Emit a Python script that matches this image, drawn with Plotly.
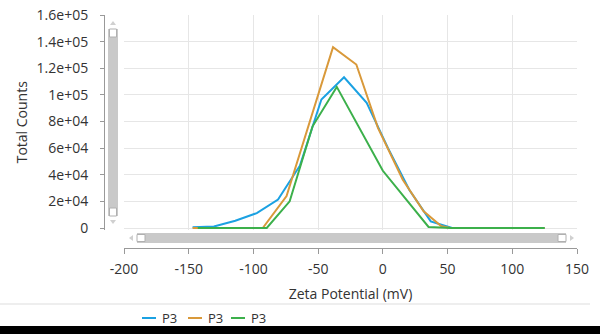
import plotly.graph_objects as go

# ---------------- data ----------------
series_names = ["P3", "P3", "P3"]
series_colors = ["#1ba1e2", "#d9993a", "#3cb04b"]

blue_x = [-147, -130.5, -114, -97.4, -81, -64, -47.5, -30, -12.5, 4, 20.5, 37, 53.5, 70, 88, 106, 125]
blue_y = [500, 1200, 5500, 11200, 21300, 47000, 96500, 113200, 94000, 60000, 28500, 5000, 0, 0, 0, 0, 0]

orange_x = [-147, -129, -111, -92.8, -74.4, -56.5, -38.5, -20.5, -3.8, 15.4, 31.5, 45, 52, 70, 88, 106, 125]
orange_y = [0, 0, 0, 0, 24000, 80000, 135800, 122800, 75200, 36300, 12500, 1500, 0, 0, 0, 0, 0]

green_x = [-143, -125, -107, -89.7, -72, -54.3, -35.6, -18, 0, 17.5, 35.3, 53, 71, 89, 107, 125]
green_y = [0, 0, 0, 0, 20000, 76400, 106000, 74500, 43000, 22000, 800, 0, 0, 0, 0, 0]

x_tickvals = [-200, -150, -100, -50, 0, 50, 100, 150]
x_ticktext = ["-200", "-150", "-100", "-50", "0", "50", "100", "150"]
y_tickvals = [0, 20000, 40000, 60000, 80000, 100000, 120000, 140000, 160000]
y_ticktext = ["0", "2e+04", "4e+04", "6e+04", "8e+04", "1e+05", "1.2e+05", "1.4e+05", "1.6e+05"]

x_title = "Zeta Potential (mV)"
y_title = "Total Counts"

# ---------------- layout geometry ----------------
W, H = 600, 334
ML, MR, MT, MB = 104, 23, 15, 86
PW = W - ML - MR
PH = H - MT - MB


def fx(px):
    return (px - ML) / PW


def fy(py):
    return (H - MB - py) / PH


FONT = "Open Sans, Noto Sans, sans-serif"
TXT = "#333333"

# y axis: 0 at pixel 228, 1.6e5 at pixel 15; extend the plot 1.5 px below 0
Y0_PX, YTOP_PX = 228.0, 15.0
per_px = 160000 / (Y0_PX - YTOP_PX)
y_min = -1.5 * per_px

fig = go.Figure()
all_series = [(blue_x, blue_y), (orange_x, orange_y), (green_x, green_y)]
for (xs, ys), name, col in zip(all_series, series_names, series_colors):
    fig.add_trace(go.Scatter(x=xs, y=ys, mode="lines", name=name,
                             line=dict(color=col, width=2), showlegend=False))

shapes = []
# vertical scrollbar
gray = "#c9c9c9"
shapes.append(dict(type="rect", xref="paper", yref="paper", x0=fx(108), x1=fx(118),
                   y0=fy(216), y1=fy(29), fillcolor=gray, line=dict(width=0), layer="above"))
for (a, b) in [(29, 37), (208, 216)]:
    shapes.append(dict(type="rect", xref="paper", yref="paper", x0=fx(109.5), x1=fx(116.5),
                       y0=fy(b), y1=fy(a), fillcolor="white", line=dict(color="#b0b0b0", width=1), layer="above"))
shapes.append(dict(type="path", xref="paper", yref="paper",
                   path=f"M {fx(110)} {fy(25)} L {fx(116)} {fy(25)} L {fx(113)} {fy(21)} Z",
                   fillcolor="#d0d0d0", line=dict(width=0)))
shapes.append(dict(type="path", xref="paper", yref="paper",
                   path=f"M {fx(110)} {fy(220)} L {fx(116)} {fy(220)} L {fx(113)} {fy(224)} Z",
                   fillcolor="#d0d0d0", line=dict(width=0)))
# horizontal scrollbar
shapes.append(dict(type="rect", xref="paper", yref="paper", x0=fx(137), x1=fx(566),
                   y0=fy(243), y1=fy(233), fillcolor=gray, line=dict(width=0), layer="above"))
for (a, b) in [(137, 145), (558, 566)]:
    shapes.append(dict(type="rect", xref="paper", yref="paper", x0=fx(a), x1=fx(b),
                       y0=fy(241.5), y1=fy(234.5), fillcolor="white", line=dict(color="#b0b0b0", width=1), layer="above"))
shapes.append(dict(type="path", xref="paper", yref="paper",
                   path=f"M {fx(133)} {fy(235)} L {fx(133)} {fy(241)} L {fx(129)} {fy(238)} Z",
                   fillcolor="#d0d0d0", line=dict(width=0)))
shapes.append(dict(type="path", xref="paper", yref="paper",
                   path=f"M {fx(570)} {fy(235)} L {fx(570)} {fy(241)} L {fx(574)} {fy(238)} Z",
                   fillcolor="#d0d0d0", line=dict(width=0)))
# separator line
shapes.append(dict(type="line", xref="paper", yref="paper", x0=fx(0), x1=fx(590),
                   y0=fy(304), y1=fy(304), line=dict(color="#dddddd", width=1)))
# black band at bottom
shapes.append(dict(type="rect", xref="paper", yref="paper", x0=fx(0), x1=fx(600),
                   y0=fy(334), y1=fy(326), fillcolor="black", line=dict(width=0)))

# manual legend
annotations = []
leg_starts = [142, 188, 231]
for start, name, col in zip(leg_starts, series_names, series_colors):
    shapes.append(dict(type="line", xref="paper", yref="paper", x0=fx(start), x1=fx(start + 14),
                       y0=fy(318), y1=fy(318), line=dict(color=col, width=2)))
    annotations.append(dict(xref="paper", yref="paper", x=fx(start + 18), y=fy(318),
                            text=name, showarrow=False, xanchor="left", yanchor="middle",
                            font=dict(family=FONT, size=13, color=TXT)))

fig.update_layout(
    width=W, height=H,
    margin=dict(l=ML, r=MR, t=MT, b=MB),
    paper_bgcolor="white", plot_bgcolor="white",
    font=dict(family=FONT, size=14, color=TXT),
    shapes=shapes, annotations=annotations,
    showlegend=False,
    xaxis=dict(domain=[fx(124), 1], range=[-200, 150], anchor="free", position=0,
               tickvals=x_tickvals, ticktext=x_ticktext,
               showline=True, linecolor="#999999", linewidth=1,
               ticks="outside", ticklen=5, tickcolor="#999999",
               showgrid=True, gridcolor="#e6e6e6", gridwidth=1, zeroline=False,
               automargin=False, ticklabelstandoff=3,
               tickfont=dict(size=14, color=TXT),
               title=dict(text=x_title, standoff=12, font=dict(size=14, color=TXT))),
    yaxis=dict(domain=[fy(Y0_PX + 1.5), 1], range=[y_min, 160000], anchor="free", position=0,
               tickvals=y_tickvals, ticktext=y_ticktext,
               showline=True, linecolor="#999999", linewidth=1,
               ticks="outside", ticklen=4, tickcolor="#999999",
               showgrid=True, gridcolor="#e6e6e6", gridwidth=1, zeroline=False,
               automargin=False, ticklabelstandoff=9,
               tickfont=dict(size=14, color=TXT),
               title=dict(text=y_title, standoff=4, font=dict(size=14, color=TXT))),
)

fig.write_html("out.html")
